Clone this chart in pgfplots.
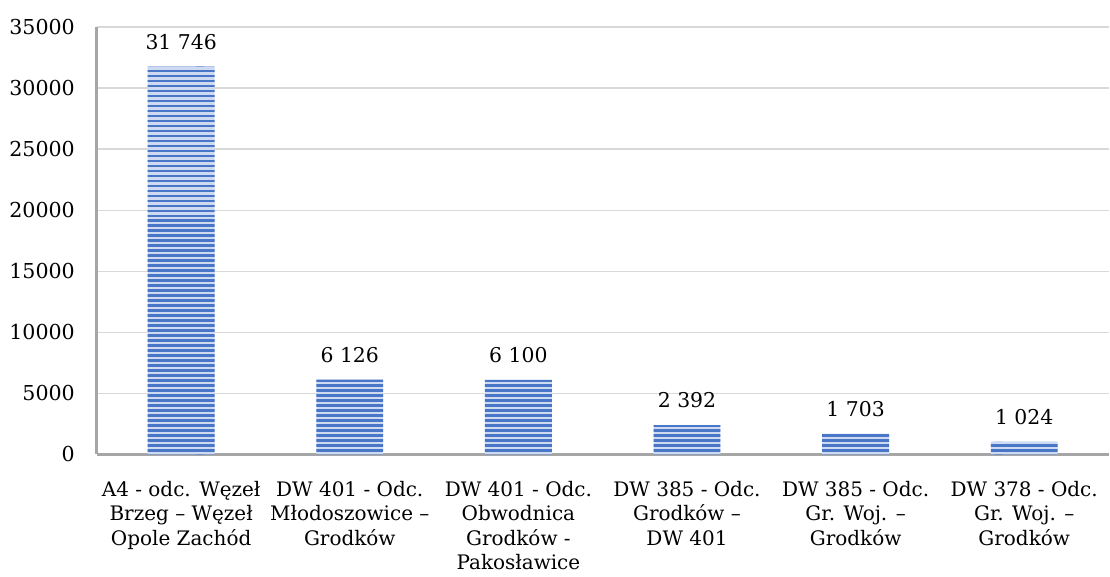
\documentclass[border=0pt]{standalone}
\usepackage{pgfplots}
\pgfplotsset{compat=1.18}
\usepackage{fontspec}
\setmainfont{DejaVu Serif}
\usetikzlibrary{patterns}
\pgfdeclarepatternformonly{hstripes}{\pgfqpoint{-2pt}{0pt}}{\pgfqpoint{102pt}{2.5pt}}{\pgfqpoint{100pt}{2.5pt}}{%
  \pgfpathrectangle{\pgfqpoint{-2pt}{0pt}}{\pgfqpoint{104pt}{1.3pt}}\pgfusepath{fill}}
\definecolor{barline}{HTML}{4A76C8}
\definecolor{barfill}{HTML}{CDDAF1}
\definecolor{axgray}{HTML}{A6A6A6}
\definecolor{gridgray}{HTML}{D9D9D9}
\begin{document}
\begin{tikzpicture}
\begin{axis}[
  scale only axis,
  width=506.5pt, height=214pt,
  xmin=-0.5, xmax=5.5,
  ymin=0, ymax=35000,
  ytick={0,5000,...,35000},
  xtick={0,1,2,3,4,5},
  xticklabels={{A4 - odc. Węzeł\\Brzeg – Węzeł\\Opole Zachód},
               {DW 401 - Odc.\\Młodoszowice –\\Grodków},
               {DW 401 - Odc.\\Obwodnica\\Grodków -\\Pakosławice},
               {DW 385 - Odc.\\Grodków –\\DW 401},
               {DW 385 - Odc.\\Gr. Woj. –\\Grodków},
               {DW 378 - Odc.\\Gr. Woj. –\\Grodków}},
  xticklabel style={align=center, font=\fontsize{10}{12.2}\selectfont, yshift=-10pt},
  yticklabel style={font=\fontsize{10.3}{12}\selectfont, xshift=-7.5pt},
  /pgf/number format/assume math mode=true,
  scaled y ticks=false,
  y tick label style={/pgf/number format/1000 sep={}},
  major tick length=0pt,
  axis x line*=bottom, axis y line*=left,
  axis line style={axgray, line width=1.5pt},
  ymajorgrids, grid style={gridgray, line width=0.6pt},
  nodes near coords,
  nodes near coords style={font=\fontsize{10.2}{12}\selectfont, /pgf/number format/1000 sep={\ }, yshift=5pt},
  clip=false,
  after end axis/.code={\path (rel axis cs:0,1) ++(-48.5pt,13.5pt);},
]
\addplot[ybar, bar width=33.5pt, draw=none, fill=barfill,
  postaction={pattern=hstripes, pattern color=barline}]
  coordinates {(0,31746) (1,6126) (2,6100) (3,2392) (4,1703) (5,1024)};
\end{axis}
\end{tikzpicture}
\end{document}
